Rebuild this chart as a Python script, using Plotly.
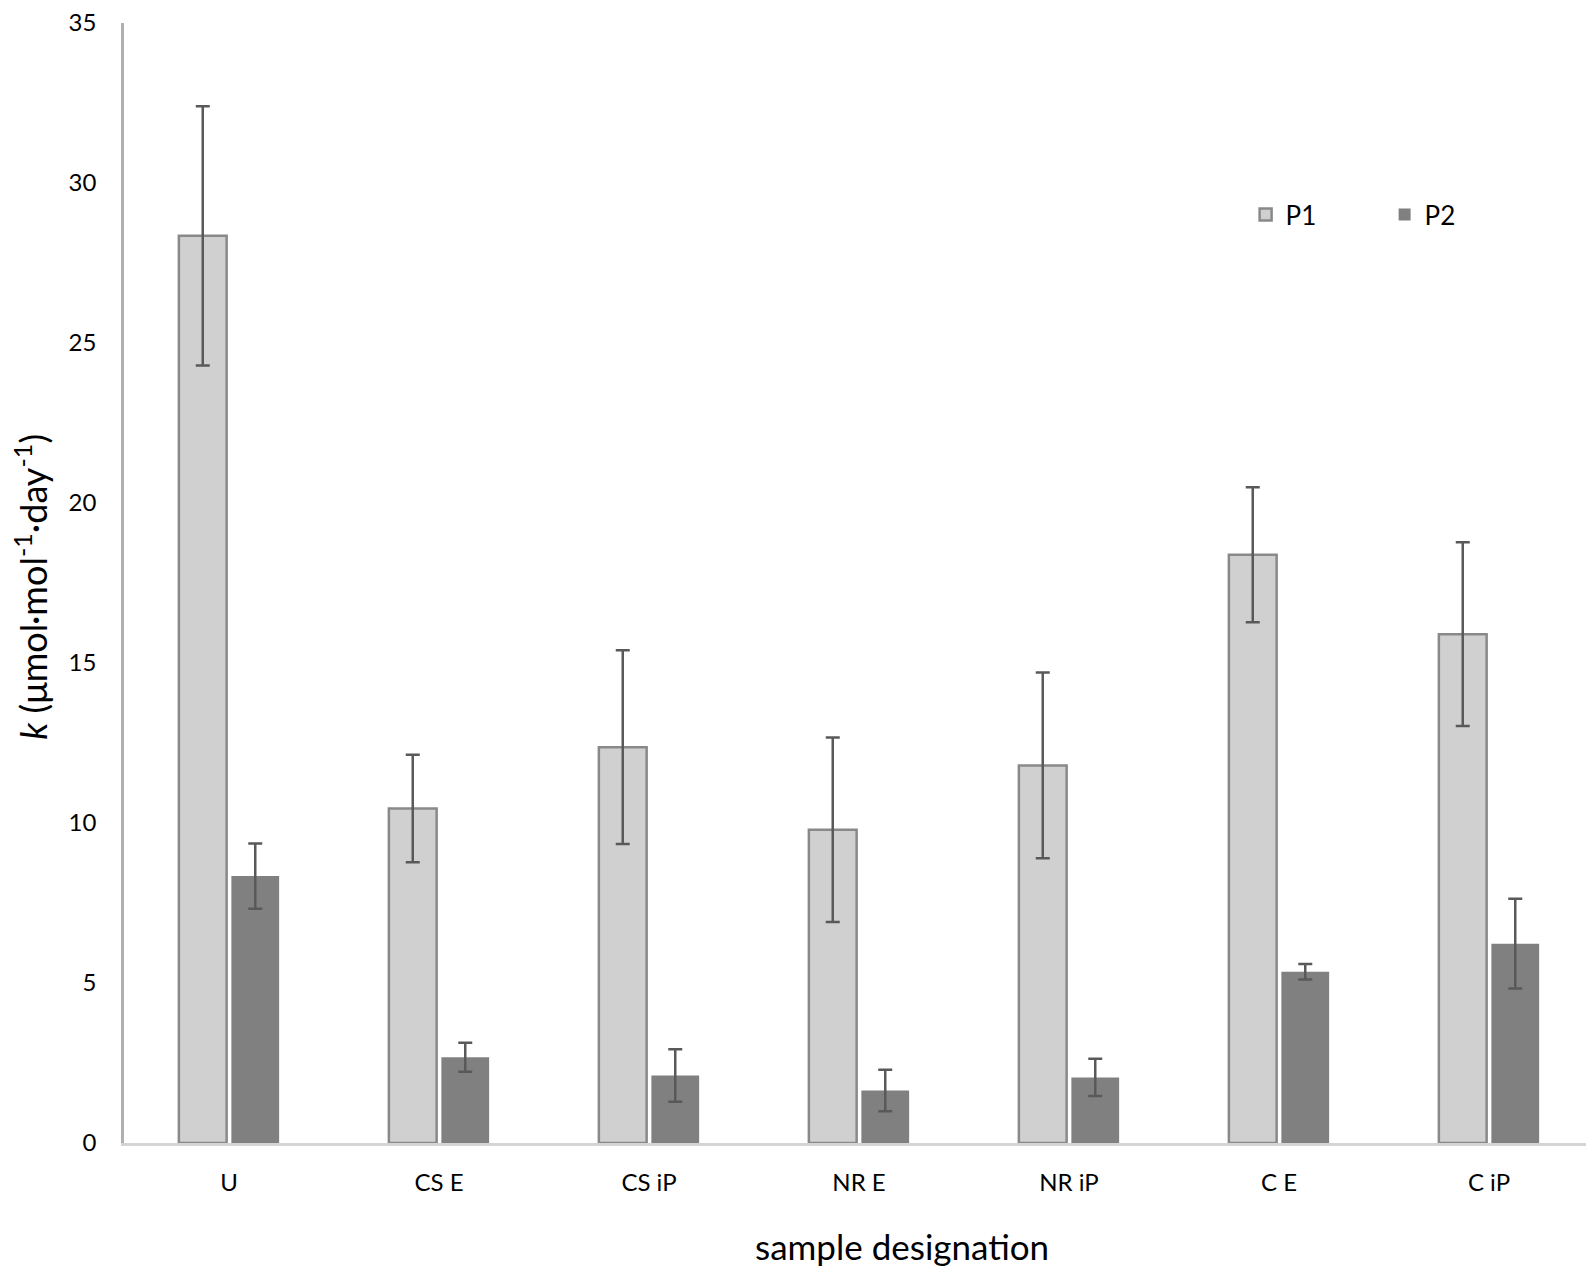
import plotly.graph_objects as go

categories = ["U", "CS E", "CS iP", "NR E", "NR iP", "C E", "C iP"]
p1_values = [28.35, 10.45, 12.37, 9.79, 11.80, 18.38, 15.90]
p1_errors = [4.05, 1.68, 3.03, 2.88, 2.90, 2.11, 2.87]
p2_values = [8.34, 2.68, 2.11, 1.64, 2.05, 5.35, 6.23]
p2_errors = [1.02, 0.45, 0.82, 0.65, 0.58, 0.24, 1.40]
y_ticks = [0, 5, 10, 15, 20, 25, 30, 35]

font_family = "Lato, Open Sans, sans-serif"
err_color = "#595959"

fig = go.Figure()
fig.add_trace(go.Bar(
    name="P1", x=categories, y=p1_values,
    marker=dict(color="#d0d0d0", line=dict(color="#898989", width=2.5)),
    error_y=dict(type="data", array=p1_errors, visible=True,
                 color=err_color, thickness=2.5, width=7),
))
fig.add_trace(go.Bar(
    name="P2", x=categories, y=p2_values,
    marker=dict(color="#808080", line=dict(color="#808080", width=0)),
    error_y=dict(type="data", array=p2_errors, visible=True,
                 color=err_color, thickness=2.5, width=7),
))

fig.update_layout(
    width=1594, height=1270,
    barmode="group", bargap=0.5, bargroupgap=0.09,
    plot_bgcolor="white", paper_bgcolor="white",
    margin=dict(l=116, r=8, t=15, b=135, autoexpand=False),
    font=dict(family=font_family, color="#000000", size=24),
    legend=dict(orientation="h", x=0.763, y=0.829, xanchor="left", yanchor="middle",
                font=dict(size=26), bgcolor="rgba(0,0,0,0)",
                entrywidth=94, entrywidthmode="pixels", itemwidth=30,
                tracegroupgap=0),
    showlegend=True,
    annotations=[
        dict(text="sample designation", xref="paper", yref="paper",
             x=0.529, y=-0.092, xanchor="center", yanchor="middle",
             showarrow=False, font=dict(size=35)),
        dict(text="<i>k</i> (μmol·mol<sup>-1</sup>·day<sup>-1</sup>)",
             xref="paper", yref="paper", x=-0.063, y=0.497,
             xanchor="center", yanchor="middle", textangle=-90,
             showarrow=False, font=dict(size=36)),
    ],
)
fig.update_xaxes(
    showgrid=False, showline=True, linecolor="#d4d4d4", linewidth=2.5,
    ticks="", tickfont=dict(size=24), ticklabelstandoff=16,
)
fig.update_yaxes(
    range=[0, 35], tickvals=y_ticks, showgrid=False, zeroline=False,
    showline=True, linecolor="#b0b0b0", linewidth=2.5,
    ticks="", tickfont=dict(size=24), ticklabelstandoff=20,
    ticklabeloverflow="allow",
)

fig.write_html("out.html")
